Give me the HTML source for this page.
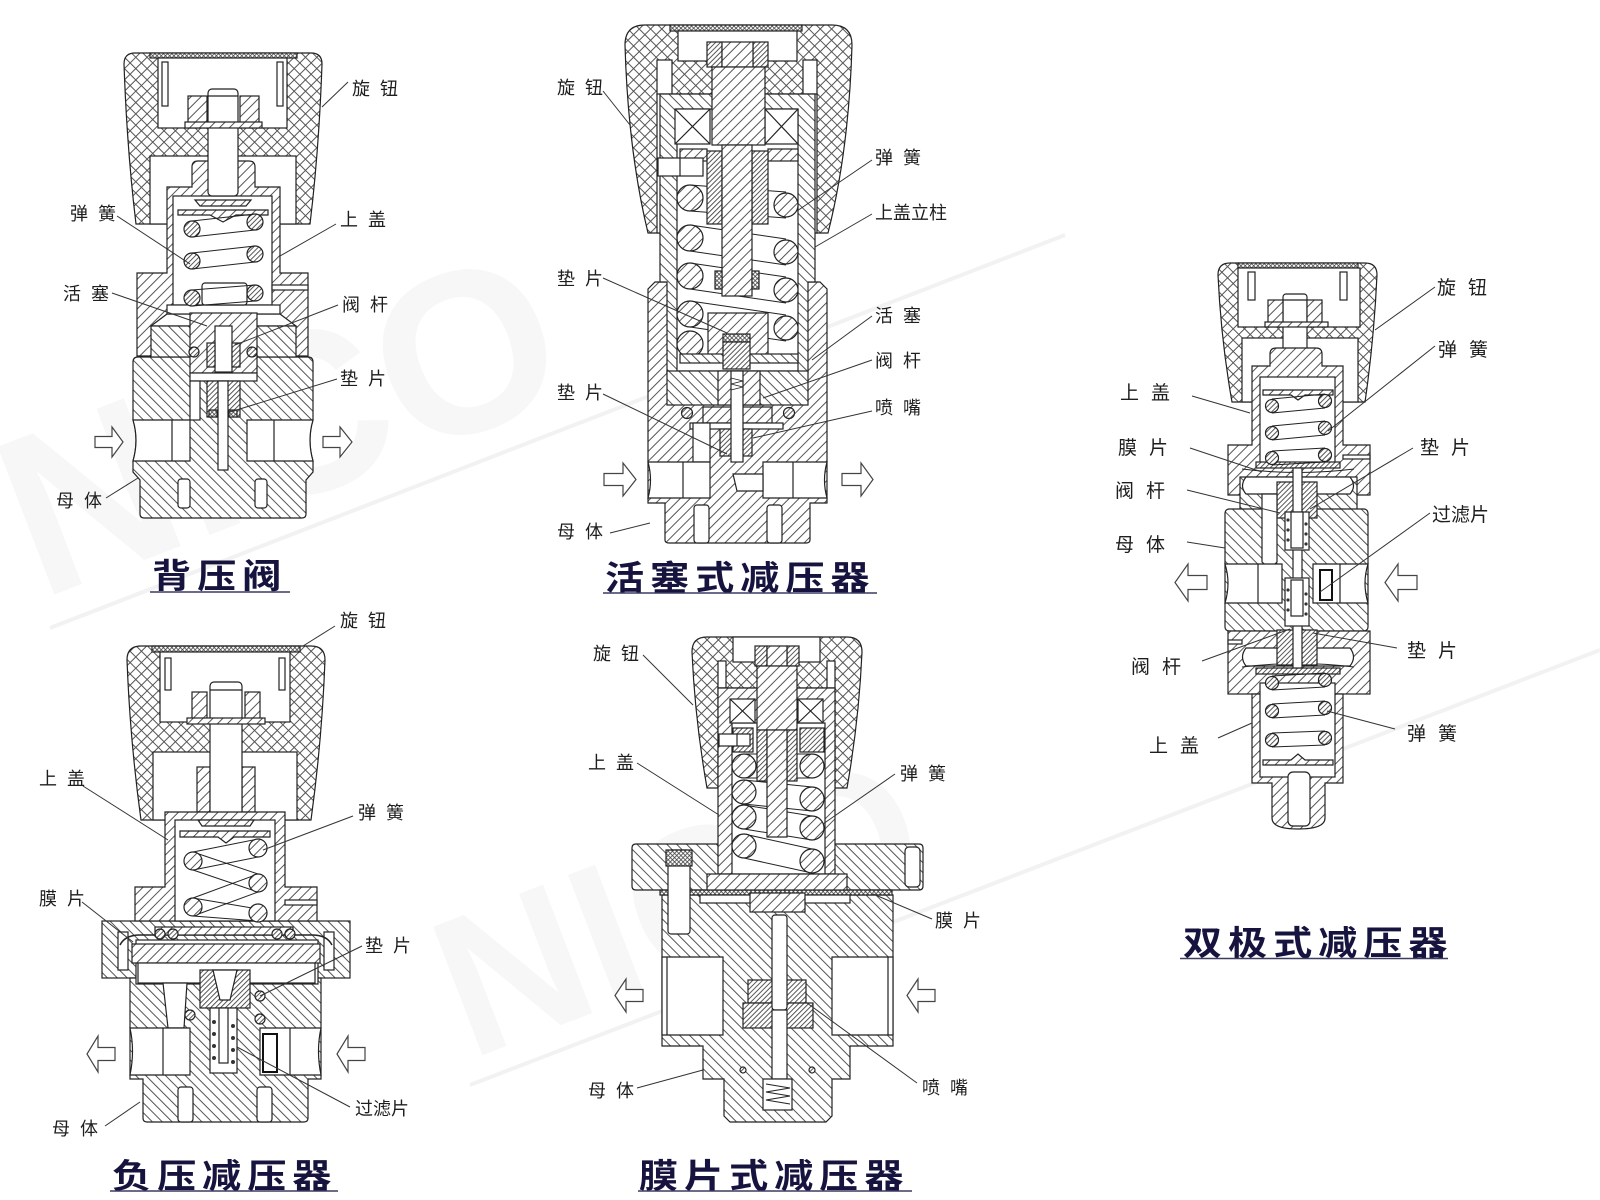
<!DOCTYPE html>
<html><head><meta charset="utf-8"><style>
html,body{margin:0;padding:0;background:#fff;}
svg{display:block;}
.lb{font-family:"Liberation Sans","Noto Sans CJK SC",sans-serif;font-size:18px;fill:#1e1e1e;}
.lb3{font-family:"Liberation Sans","Noto Sans CJK SC",sans-serif;font-size:19px;fill:#1e1e1e;}
.tt{font-family:"Liberation Sans","Noto Sans CJK SC",sans-serif;font-size:34px;font-weight:700;fill:#16143f;letter-spacing:5.2px;}
</style></head><body>
<svg width="1600" height="1200" viewBox="0 0 1600 1200" xmlns="http://www.w3.org/2000/svg">
<defs>
<pattern id="hA" patternUnits="userSpaceOnUse" width="7" height="7" patternTransform="rotate(45)"><rect width="7" height="7" fill="#fff"/><rect x="0" y="0" width="1" height="7" fill="#555"/></pattern>
<pattern id="hB" patternUnits="userSpaceOnUse" width="7" height="7" patternTransform="rotate(-45)"><rect width="7" height="7" fill="#fff"/><rect x="0" y="0" width="1" height="7" fill="#555"/></pattern>
<pattern id="hC" patternUnits="userSpaceOnUse" width="3.5" height="3.5" patternTransform="rotate(45)"><rect width="3.5" height="3.5" fill="#fff"/><rect x="0" y="0" width="0.9" height="3.5" fill="#444"/></pattern>
<pattern id="xh" patternUnits="userSpaceOnUse" width="8" height="8" patternTransform="rotate(45)"><rect width="8" height="8" fill="#fff"/><rect x="0" y="0" width="1" height="8" fill="#555"/><rect x="0" y="0" width="8" height="1" fill="#555"/></pattern>
<pattern id="fine" patternUnits="userSpaceOnUse" width="3" height="3" patternTransform="rotate(45)"><rect width="3" height="3" fill="#fff"/><rect x="0" y="0" width="0.8" height="3" fill="#444"/><rect x="0" y="0" width="3" height="0.8" fill="#444"/></pattern>
</defs>

<!-- faint watermark -->
<g stroke="#f2f2f2" stroke-width="4" fill="none">
<line x1="50" y1="628" x2="1065" y2="235"/>
<line x1="470" y1="1085" x2="1600" y2="650"/>
</g>
<g fill="#f7f7f7" font-family="Liberation Sans, sans-serif" font-weight="700">
<text x="0" y="0" font-size="230" transform="translate(40,600) rotate(-21)">NICO</text>
<text x="0" y="0" font-size="200" transform="translate(470,1060) rotate(-21)">NICO</text>
</g>

<g stroke="#222" stroke-width="1.2">
<!-- DIAGRAM 1 -->
<path d="M124,64 Q124,53 135,53 L311,53 Q322,53 322,64 Q319,150 310,224 L136,224 Q127,150 124,64 Z" fill="url(#xh)"/>
<rect x="150" y="53" width="147" height="5" fill="url(#fine)"/>
<rect x="158" y="58" width="129" height="70" fill="#fff"/>
<rect x="162" y="62" width="6" height="44" fill="#fff"/>
<rect x="277" y="62" width="6" height="44" fill="#fff"/>
<rect x="150" y="156" width="146" height="68" fill="#fff"/>
<path d="M192,167 Q192,161 198,161 L249,161 Q255,161 255,167 L255,187 L280,187 L280,273 L308,273 L308,356 L137,356 L137,273 L167,273 L167,187 L192,187 Z" fill="url(#hA)"/>
<rect x="173" y="196" width="99" height="109" fill="#fff"/>
<rect x="272" y="285" width="36" height="5" fill="#fff"/>
<path d="M133,362 Q133,357 138,357 L308,357 Q313,357 313,362 L313,420 Q307,440 313,461 L313,472 L306,480 L306,514 Q306,518 302,518 L144,518 Q140,518 140,514 L140,480 L133,472 L133,461 Q139,440 133,420 Z" fill="url(#hB)"/>
<polygon points="167,314 280,314 296,326 151,326" fill="#fff"/>
<rect x="151" y="326" width="145" height="31" fill="url(#hB)"/>
<rect x="167" y="305" width="113" height="9" fill="#fff"/>
<rect x="202" y="283" width="45" height="22" rx="3" fill="#fff"/>
<rect x="190" y="313" width="67" height="60" fill="url(#hA)"/>
<rect x="215" y="326" width="17" height="46" fill="#fff"/>
<rect x="207" y="343" width="8" height="24" fill="url(#hC)"/>
<rect x="232" y="343" width="8" height="24" fill="url(#hC)"/>
<circle cx="194" cy="352" r="5" fill="url(#hC)"/>
<circle cx="252" cy="352" r="5" fill="url(#hC)"/>
<rect x="190" y="373" width="67" height="8" fill="#fff"/>
<rect x="207" y="381" width="33" height="36" fill="url(#hC)"/>
<rect x="190" y="381" width="10" height="39" fill="#fff"/>
<path d="M133,420 L190,420 L190,461 L133,461 Q139,440 133,420 Z" fill="#fff"/>
<line x1="172" y1="420" x2="172" y2="461"/>
<path d="M247,420 L313,420 Q307,440 313,461 L247,461 Z" fill="#fff"/>
<line x1="274" y1="420" x2="274" y2="461"/>
<rect x="218" y="381" width="10" height="89" fill="#fff"/>
<rect x="209" y="410" width="8" height="7" fill="url(#fine)"/>
<rect x="229" y="410" width="8" height="7" fill="url(#fine)"/>
<rect x="178" y="479" width="12" height="29" rx="3" fill="#fff"/>
<rect x="255" y="479" width="12" height="29" rx="3" fill="#fff"/>
<rect x="208" y="89" width="30" height="107" rx="4" fill="#fff"/>
<line x1="208" y1="96" x2="238" y2="96"/>
<rect x="188" y="96" width="19" height="27" fill="url(#hA)"/>
<rect x="240" y="96" width="19" height="27" fill="url(#hA)"/>
<rect x="185" y="122" width="77" height="6" fill="url(#hA)"/>
<polygon points="195,200 251,200 246,206 200,206" fill="url(#hA)"/>
<polygon points="178,210 268,210 268,215 236,215 223,222 210,215 178,215" fill="url(#hA)"/>
<g stroke-width="1">
<line x1="192" y1="221" x2="255" y2="214"/><line x1="192" y1="237" x2="255" y2="230"/>
<line x1="192" y1="253" x2="255" y2="246"/><line x1="192" y1="269" x2="255" y2="262"/>
<line x1="192" y1="290" x2="255" y2="285"/><line x1="192" y1="306" x2="255" y2="301"/>
</g>
<circle cx="192" cy="229" r="8" fill="url(#hC)"/><circle cx="192" cy="261" r="8" fill="url(#hC)"/><circle cx="192" cy="298" r="8" fill="url(#hC)"/>
<circle cx="255" cy="222" r="8" fill="url(#hC)"/><circle cx="255" cy="254" r="8" fill="url(#hC)"/><circle cx="255" cy="293" r="8" fill="url(#hC)"/>

<!-- DIAGRAM 2 -->
<path d="M625,45 Q625,25 645,25 L832,25 Q852,25 852,45 Q849,150 828,233 L648,233 Q628,150 625,45 Z" fill="url(#xh)"/>
<rect x="670" y="25" width="132" height="6" fill="url(#fine)"/>
<rect x="678" y="31" width="119" height="30" fill="#fff"/>
<rect x="657" y="60" width="15" height="35" fill="#fff"/>
<rect x="803" y="60" width="14" height="35" fill="#fff"/>
<rect x="657" y="94" width="160" height="139" fill="#fff"/>
<path d="M655,282 L820,282 L827,289 L827,503 L810,503 L810,540 Q810,543 806,543 L669,543 Q665,543 665,540 L665,503 L648,503 L648,289 Z" fill="url(#hA)"/>
<path d="M660,94 L815,94 L815,282 L808,282 L808,373 L667,373 L667,282 L660,282 Z" fill="url(#hB)"/>
<rect x="677" y="109" width="121" height="262" fill="#fff"/>
<rect x="675" y="109" width="35" height="35" fill="#fff"/>
<line x1="675" y1="109" x2="710" y2="144"/><line x1="710" y1="109" x2="675" y2="144"/>
<rect x="765" y="109" width="33" height="35" fill="#fff"/>
<line x1="765" y1="109" x2="798" y2="144"/><line x1="798" y1="109" x2="765" y2="144"/>
<rect x="707" y="42" width="15" height="25" fill="url(#hC)"/>
<rect x="753" y="42" width="15" height="25" fill="url(#hC)"/>
<rect x="722" y="42" width="31" height="25" fill="url(#hA)"/>
<rect x="712" y="67" width="53" height="78" fill="url(#hA)"/>
<g stroke-width="1">
<line x1="690" y1="185" x2="786" y2="192"/><line x1="690" y1="211" x2="786" y2="218"/>
<line x1="690" y1="225" x2="786" y2="239"/><line x1="690" y1="251" x2="786" y2="265"/>
<line x1="690" y1="263" x2="786" y2="277"/><line x1="690" y1="289" x2="786" y2="303"/>
<line x1="690" y1="301" x2="786" y2="315"/><line x1="690" y1="327" x2="786" y2="341"/>
</g>
<circle cx="690" cy="198" r="13" fill="url(#hA)"/><circle cx="690" cy="238" r="13" fill="url(#hA)"/><circle cx="690" cy="276" r="13" fill="url(#hA)"/><circle cx="690" cy="314" r="13" fill="url(#hA)"/><circle cx="690" cy="344" r="13" fill="url(#hA)"/>
<circle cx="786" cy="205" r="12" fill="url(#hA)"/><circle cx="786" cy="252" r="12" fill="url(#hA)"/><circle cx="786" cy="290" r="12" fill="url(#hA)"/><circle cx="786" cy="328" r="12" fill="url(#hA)"/>
<rect x="680" y="149" width="27" height="12" fill="url(#hA)"/>
<rect x="768" y="149" width="30" height="12" fill="url(#hA)"/>
<rect x="707" y="151" width="15" height="73" fill="url(#hC)"/>
<rect x="752" y="151" width="16" height="73" fill="url(#hC)"/>
<rect x="722" y="145" width="30" height="151" fill="url(#hA)"/>
<rect x="715" y="271" width="7" height="18" fill="url(#fine)"/>
<rect x="752" y="271" width="7" height="18" fill="url(#fine)"/>
<rect x="658" y="158" width="45" height="18" fill="#fff"/>
<line x1="680" y1="158" x2="680" y2="176"/>
<rect x="708" y="313" width="60" height="42" fill="url(#hA)"/>
<rect x="680" y="354" width="118" height="9" fill="url(#hB)"/>
<rect x="723" y="334" width="27" height="8" fill="url(#fine)"/>
<rect x="723" y="342" width="27" height="27" fill="url(#hC)"/>
<rect x="667" y="371" width="141" height="34" fill="url(#hB)"/>
<rect x="718" y="371" width="42" height="34" fill="url(#hA)"/>
<rect x="703" y="407" width="69" height="16" fill="url(#hA)"/>
<circle cx="687" cy="413" r="5.5" fill="url(#hC)"/>
<circle cx="789" cy="413" r="5.5" fill="url(#hC)"/>
<rect x="690" y="423" width="93" height="6" fill="#fff"/>
<rect x="720" y="429" width="32" height="27" fill="url(#hC)"/>
<rect x="731" y="371" width="12" height="91" fill="#fff"/>
<polyline points="731,378 743,381 731,384 743,387 731,390" fill="none" stroke-width="0.9"/>
<rect x="693" y="423" width="17" height="39" fill="#fff"/>
<path d="M648,462 L710,462 L710,498 L648,498 Q653,480 648,462 Z" fill="#fff"/>
<line x1="683" y1="462" x2="683" y2="498"/>
<path d="M763,462 L827,462 Q822,480 827,498 L763,498 Z" fill="#fff"/>
<line x1="793" y1="462" x2="793" y2="498"/>
<polygon points="733,474 763,474 763,491 737,491" fill="#fff"/>
<rect x="694" y="505" width="15" height="38" rx="3" fill="#fff"/>
<rect x="767" y="505" width="15" height="38" rx="3" fill="#fff"/>

<!-- DIAGRAM 3 -->
<path d="M1218,275 Q1218,263 1230,263 L1365,263 Q1377,263 1377,275 Q1374,340 1365,402 L1232,402 Q1221,340 1218,275 Z" fill="url(#xh)"/>
<rect x="1238" y="263" width="120" height="5" fill="url(#fine)"/>
<rect x="1238" y="268" width="122" height="59" fill="#fff"/>
<rect x="1248" y="272" width="7" height="28" fill="#fff"/>
<rect x="1340" y="272" width="7" height="28" fill="#fff"/>
<rect x="1242" y="338" width="116" height="64" fill="#fff"/>
<rect x="1283" y="294" width="24" height="58" rx="3" fill="#fff"/>
<line x1="1283" y1="300" x2="1307" y2="300"/>
<rect x="1268" y="300" width="15" height="23" fill="url(#hA)"/>
<rect x="1307" y="300" width="15" height="23" fill="url(#hA)"/>
<rect x="1265" y="322" width="63" height="5" fill="url(#hA)"/>
<path d="M1270,354 Q1270,348 1276,348 L1316,348 Q1322,348 1322,354 L1322,366 L1343,366 L1343,445 L1370,445 L1370,495 L1228,495 L1228,445 L1252,445 L1252,366 L1270,366 Z" fill="url(#hA)"/>
<rect x="1260" y="377" width="75" height="86" fill="#fff"/>
<rect x="1343" y="455" width="27" height="4" fill="#fff"/>
<rect x="1240" y="477" width="117" height="190" fill="url(#hB)"/>
<rect x="1225" y="509" width="143" height="122" rx="4" fill="url(#hB)"/>
<rect x="1228" y="631" width="142" height="63" fill="url(#hA)"/>
<rect x="1228" y="640" width="14" height="4" fill="#fff"/>
<path d="M1252,694 L1343,694 L1343,783 L1325,783 L1325,818 Q1325,829 1298,829 Q1272,829 1272,818 L1272,783 L1252,783 Z" fill="url(#hA)"/>
<rect x="1260" y="683" width="75" height="94" fill="#fff"/>
<path d="M1246,477 L1350,477 Q1357,486 1350,494 L1246,494 Q1239,486 1246,477 Z" fill="#fff"/>
<path d="M1246,648 L1350,648 Q1357,657 1350,666 L1246,666 Q1239,657 1246,648 Z" fill="#fff"/>
<rect x="1256" y="462" width="84" height="6" fill="url(#hC)"/>
<rect x="1256" y="668" width="84" height="6" fill="url(#hC)"/>
<path d="M1242,469 Q1298,476 1354,469" fill="none" stroke-width="1"/>
<path d="M1242,667 Q1298,660 1354,667" fill="none" stroke-width="1"/>
<rect x="1277" y="482" width="40" height="36" fill="url(#hC)"/>
<rect x="1277" y="630" width="40" height="35" fill="url(#hC)"/>
<rect x="1293" y="468" width="9" height="200" fill="#fff"/>
<rect x="1285" y="512" width="24" height="38" fill="#fff"/>
<rect x="1285" y="578" width="24" height="48" fill="#fff"/>
<g fill="#333" stroke="none">
<circle cx="1288" cy="520" r="1.6"/><circle cx="1306" cy="524" r="1.6"/><circle cx="1288" cy="530" r="1.6"/><circle cx="1306" cy="534" r="1.6"/><circle cx="1288" cy="540" r="1.6"/><circle cx="1306" cy="544" r="1.6"/>
<circle cx="1288" cy="590" r="1.6"/><circle cx="1306" cy="594" r="1.6"/><circle cx="1288" cy="600" r="1.6"/><circle cx="1306" cy="604" r="1.6"/><circle cx="1288" cy="610" r="1.6"/><circle cx="1306" cy="614" r="1.6"/>
</g>
<rect x="1291" y="512" width="12" height="36" fill="#fff"/>
<rect x="1291" y="580" width="12" height="36" fill="#fff"/>
<path d="M1262,494 L1277,494 L1277,562 Q1270,570 1262,562 Z" fill="#fff"/>
<path d="M1225,564 L1282,564 L1282,603 L1225,603 Q1231,583 1225,564 Z" fill="#fff"/>
<line x1="1258" y1="564" x2="1258" y2="603"/>
<path d="M1313,564 L1368,564 Q1362,583 1368,603 L1313,603 Z" fill="#fff"/>
<line x1="1340" y1="564" x2="1340" y2="603"/>
<rect x="1320" y="570" width="12" height="30" fill="#fff" stroke="#111" stroke-width="2"/>
<polygon points="1263,390 1333,390 1333,395 1305,395 1298,400 1291,395 1263,395" fill="url(#hA)"/>
<polygon points="1263,760 1291,760 1298,754 1305,760 1333,760 1333,765 1263,765" fill="url(#hA)"/>
<g stroke-width="1">
<line x1="1272" y1="399" x2="1325" y2="394"/><line x1="1272" y1="413" x2="1325" y2="408"/>
<line x1="1272" y1="426" x2="1325" y2="421"/><line x1="1272" y1="440" x2="1325" y2="435"/>
<line x1="1272" y1="451" x2="1325" y2="448"/><line x1="1272" y1="465" x2="1325" y2="462"/>
<line x1="1272" y1="676" x2="1325" y2="673"/><line x1="1272" y1="690" x2="1325" y2="687"/>
<line x1="1272" y1="704" x2="1325" y2="701"/><line x1="1272" y1="718" x2="1325" y2="715"/>
<line x1="1272" y1="733" x2="1325" y2="731"/><line x1="1272" y1="747" x2="1325" y2="745"/>
</g>
<circle cx="1272" cy="406" r="6.5" fill="url(#hC)"/><circle cx="1272" cy="433" r="6.5" fill="url(#hC)"/><circle cx="1272" cy="458" r="6.5" fill="url(#hC)"/>
<circle cx="1325" cy="401" r="6.5" fill="url(#hC)"/><circle cx="1325" cy="428" r="6.5" fill="url(#hC)"/><circle cx="1325" cy="455" r="6.5" fill="url(#hC)"/>
<circle cx="1272" cy="683" r="6.5" fill="url(#hC)"/><circle cx="1272" cy="711" r="6.5" fill="url(#hC)"/><circle cx="1272" cy="740" r="6.5" fill="url(#hC)"/>
<circle cx="1325" cy="680" r="6.5" fill="url(#hC)"/><circle cx="1325" cy="708" r="6.5" fill="url(#hC)"/><circle cx="1325" cy="738" r="6.5" fill="url(#hC)"/>
<rect x="1288" y="772" width="22" height="54" rx="5" fill="#fff"/>

<!-- DIAGRAM 4 -->
<path d="M127,660 Q127,646 141,646 L311,646 Q325,646 325,660 Q322,740 311,820 L141,820 Q130,740 127,660 Z" fill="url(#xh)"/>
<rect x="152" y="646" width="148" height="6" fill="url(#fine)"/>
<rect x="160" y="652" width="130" height="70" fill="#fff"/>
<rect x="165" y="658" width="6" height="32" fill="#fff"/>
<rect x="279" y="658" width="6" height="32" fill="#fff"/>
<rect x="153" y="752" width="144" height="68" fill="#fff"/>
<rect x="197" y="767" width="13" height="45" fill="url(#hA)"/>
<rect x="242" y="767" width="13" height="45" fill="url(#hA)"/>
<rect x="210" y="682" width="32" height="138" rx="4" fill="#fff"/>
<line x1="210" y1="690" x2="242" y2="690"/>
<rect x="192" y="692" width="15" height="27" fill="url(#hA)"/>
<rect x="245" y="692" width="15" height="27" fill="url(#hA)"/>
<rect x="187" y="718" width="78" height="6" fill="url(#hA)"/>
<rect x="102" y="921" width="248" height="57" fill="url(#hB)"/>
<path d="M165,812 L285,812 L285,887 L317,887 L317,921 L135,921 L135,887 L165,887 Z" fill="url(#hA)"/>
<rect x="175" y="820" width="100" height="101" fill="#fff"/>
<rect x="285" y="900" width="32" height="5" fill="#fff"/>
<path d="M130,978 L321,978 L321,1079 L308,1079 L308,1118 Q308,1122 304,1122 L147,1122 Q143,1122 143,1118 L143,1079 L130,1079 Z" fill="url(#hB)"/>
<rect x="118" y="932" width="10" height="38" fill="#fff"/>
<rect x="324" y="932" width="10" height="38" fill="#fff"/>
<rect x="136" y="940" width="182" height="44" fill="#fff"/>
<rect x="132" y="944" width="188" height="19" fill="url(#hA)"/>
<rect x="138" y="963" width="177" height="20" fill="#fff"/>
<path d="M120,945 Q125,935 140,935 L312,935 Q327,935 332,945" fill="none" stroke-width="1.5"/>
<rect x="155" y="927" width="138" height="8" fill="url(#hA)"/>
<circle cx="160" cy="934" r="5" fill="url(#hC)"/><circle cx="173" cy="934" r="5" fill="url(#hC)"/>
<circle cx="277" cy="934" r="5" fill="url(#hC)"/><circle cx="290" cy="934" r="5" fill="url(#hC)"/>
<polygon points="163,983 187,983 184,1028 168,1028" fill="#fff"/>
<rect x="200" y="970" width="50" height="38" fill="url(#hC)"/>
<polygon points="213,970 237,970 230,1000 220,1000" fill="#fff"/>
<rect x="210" y="1008" width="27" height="65" fill="#fff"/>
<g fill="#333" stroke="none">
<circle cx="214" cy="1022" r="2"/><circle cx="233" cy="1026" r="2"/><circle cx="214" cy="1034" r="2"/><circle cx="233" cy="1038" r="2"/><circle cx="214" cy="1046" r="2"/><circle cx="233" cy="1050" r="2"/><circle cx="214" cy="1058" r="2"/><circle cx="233" cy="1062" r="2"/>
</g>
<rect x="219" y="1008" width="9" height="55" fill="#fff"/>
<circle cx="190" cy="1015" r="5" fill="url(#hC)"/>
<circle cx="260" cy="996" r="5" fill="url(#hC)"/>
<circle cx="260" cy="1019" r="5" fill="url(#hC)"/>
<path d="M130,1028 L190,1028 L190,1075 L130,1075 Q135,1051 130,1028 Z" fill="#fff"/>
<line x1="163" y1="1028" x2="163" y2="1075"/>
<path d="M260,1028 L321,1028 Q316,1051 321,1075 L260,1075 Z" fill="#fff"/>
<line x1="290" y1="1028" x2="290" y2="1075"/>
<rect x="263" y="1034" width="14" height="38" fill="#fff" stroke="#111" stroke-width="2"/>
<rect x="178" y="1087" width="15" height="35" rx="3" fill="#fff"/>
<rect x="257" y="1087" width="15" height="35" rx="3" fill="#fff"/>
<polygon points="198,820 254,820 250,826 202,826" fill="url(#hA)"/>
<polygon points="180,831 270,831 270,837 234,837 226,843 218,837 180,837" fill="url(#hA)"/>
<g stroke-width="1">
<line x1="193" y1="852" x2="258" y2="839"/><line x1="193" y1="870" x2="258" y2="857"/>
<line x1="193" y1="852" x2="258" y2="874"/><line x1="193" y1="870" x2="258" y2="892"/>
<line x1="193" y1="898" x2="258" y2="874"/><line x1="193" y1="916" x2="258" y2="892"/>
<line x1="193" y1="898" x2="258" y2="909"/><line x1="193" y1="916" x2="258" y2="921"/>
</g>
<circle cx="193" cy="861" r="9" fill="url(#hA)"/><circle cx="193" cy="907" r="9" fill="url(#hA)"/>
<circle cx="258" cy="848" r="9" fill="url(#hA)"/><circle cx="258" cy="883" r="9" fill="url(#hA)"/><circle cx="258" cy="913" r="9" fill="url(#hA)"/>

<!-- DIAGRAM 5 -->
<path d="M632,848 Q632,844 636,844 L919,844 Q923,844 923,848 L923,886 Q923,890 919,890 L636,890 Q632,890 632,886 Z" fill="url(#hB)"/>
<rect x="905" y="847" width="15" height="40" rx="4" fill="#fff"/>
<path d="M662,895 L893,895 L893,1046 L850,1046 L850,1079 L832,1079 L832,1116 L826,1122 L730,1122 L724,1116 L724,1079 L703,1079 L703,1046 L662,1046 Z" fill="url(#hB)"/>
<rect x="660" y="890" width="232" height="5" fill="url(#fine)"/>
<rect x="668" y="850" width="22" height="84" rx="3" fill="#fff"/>
<rect x="666" y="850" width="26" height="16" fill="url(#fine)"/>
<path d="M692,652 Q692,637 707,637 L847,637 Q862,637 862,652 Q859,720 847,788 L707,788 Q695,720 692,652 Z" fill="url(#xh)"/>
<rect x="733" y="637" width="87" height="25" fill="#fff"/>
<rect x="718" y="661" width="8" height="27" fill="#fff"/>
<rect x="827" y="661" width="8" height="27" fill="#fff"/>
<rect x="718" y="688" width="117" height="100" fill="#fff"/>
<path d="M718,688 L835,688 L835,874 L718,874 Z" fill="url(#hA)"/>
<rect x="732" y="723" width="93" height="151" fill="#fff"/>
<rect x="730" y="699" width="25" height="24" fill="#fff"/>
<line x1="730" y1="699" x2="755" y2="723"/><line x1="755" y1="699" x2="730" y2="723"/>
<rect x="798" y="699" width="25" height="24" fill="#fff"/>
<line x1="798" y1="699" x2="823" y2="723"/><line x1="823" y1="699" x2="798" y2="723"/>
<rect x="755" y="646" width="12" height="20" fill="url(#hC)"/>
<rect x="787" y="646" width="12" height="20" fill="url(#hC)"/>
<rect x="767" y="646" width="20" height="20" fill="url(#hA)"/>
<rect x="757" y="666" width="40" height="64" fill="url(#hA)"/>
<g stroke-width="1">
<line x1="744" y1="754" x2="812" y2="754"/><line x1="744" y1="778" x2="812" y2="778"/>
<line x1="744" y1="780" x2="812" y2="787"/><line x1="744" y1="804" x2="812" y2="811"/>
<line x1="744" y1="805" x2="812" y2="816"/><line x1="744" y1="829" x2="812" y2="840"/>
<line x1="744" y1="834" x2="812" y2="849"/><line x1="744" y1="858" x2="812" y2="873"/>
</g>
<circle cx="744" cy="766" r="12" fill="url(#hA)"/><circle cx="744" cy="792" r="12" fill="url(#hA)"/><circle cx="744" cy="817" r="12" fill="url(#hA)"/><circle cx="744" cy="846" r="12" fill="url(#hA)"/>
<circle cx="812" cy="766" r="12" fill="url(#hA)"/><circle cx="812" cy="799" r="12" fill="url(#hA)"/><circle cx="812" cy="828" r="12" fill="url(#hA)"/><circle cx="812" cy="861" r="12" fill="url(#hA)"/>
<rect x="757" y="730" width="10" height="51" fill="url(#hC)"/>
<rect x="787" y="730" width="10" height="51" fill="url(#hC)"/>
<rect x="767" y="730" width="20" height="107" fill="url(#hA)"/>
<rect x="733" y="728" width="20" height="24" fill="url(#hC)"/>
<rect x="800" y="728" width="24" height="24" fill="url(#hC)"/>
<rect x="719" y="734" width="31" height="12" fill="#fff"/>
<line x1="737" y1="734" x2="737" y2="746"/>
<rect x="707" y="874" width="140" height="16" fill="url(#hA)"/>
<rect x="700" y="895" width="150" height="8" fill="#fff"/>
<rect x="750" y="893" width="55" height="19" fill="url(#hA)"/>
<path d="M662,957 L723,957 L723,1035 L662,1035 Z" fill="#fff"/>
<line x1="667" y1="957" x2="667" y2="1035"/>
<path d="M832,957 L893,957 L893,1035 L832,1035 Z" fill="#fff"/>
<line x1="888" y1="957" x2="888" y2="1035"/>
<rect x="748" y="980" width="58" height="23" fill="url(#hC)"/>
<rect x="743" y="1003" width="70" height="25" fill="url(#hC)"/>
<rect x="772" y="915" width="15" height="95" rx="3" fill="#fff"/>
<rect x="772" y="1010" width="15" height="69" fill="#fff"/>
<rect x="763" y="1079" width="29" height="31" fill="#fff"/>
<polyline points="766,1084 790,1088 766,1092 790,1096 766,1100 790,1104" fill="none" stroke-width="1"/>
<circle cx="743" cy="1070" r="3" fill="url(#hC)"/>
<circle cx="812" cy="1070" r="3" fill="url(#hC)"/>
</g>

<!-- arrows -->
<g stroke="#444" stroke-width="1.2" fill="#fff">
<polygon points="95,436.5 112,436.5 112,427 123,442 112,457 112,447.5 95,447.5"/>
<polygon points="323,436.5 340,436.5 340,427 352,442 340,457 340,447.5 323,447.5"/>
<polygon points="604,473.5 623,473.5 623,463 636,479.5 623,496 623,485.5 604,485.5"/>
<polygon points="842,473.5 861,473.5 861,463 873,479.5 861,496 861,485.5 842,485.5"/>
<polygon points="1207,575.5 1188,575.5 1188,564 1175,582.5 1188,601 1188,589.5 1207,589.5"/>
<polygon points="1417,575.5 1398,575.5 1398,564 1385,582.5 1398,601 1398,589.5 1417,589.5"/>
<polygon points="115,1047.5 98,1047.5 98,1036 87,1054 98,1072 98,1060.5 115,1060.5"/>
<polygon points="365,1047.5 348,1047.5 348,1036 337,1054 348,1072 348,1060.5 365,1060.5"/>
<polygon points="643,989.5 626,989.5 626,979 615,995.5 626,1012 626,1001.5 643,1001.5"/>
<polygon points="935,989.5 918,989.5 918,979 907,995.5 918,1012 918,1001.5 935,1001.5"/>
</g>

<!-- leader lines -->
<g stroke="#333" stroke-width="1" fill="none">
<line x1="322" y1="107" x2="348" y2="82"/>
<line x1="117" y1="216" x2="190" y2="264"/>
<line x1="336" y1="224" x2="280" y2="256"/>
<line x1="112" y1="293" x2="207" y2="326"/>
<line x1="338" y1="305" x2="235" y2="345"/>
<line x1="337" y1="379" x2="230" y2="412"/>
<line x1="106" y1="498" x2="138" y2="478"/>
<line x1="603" y1="91" x2="630" y2="125"/>
<line x1="872" y1="160" x2="797" y2="211"/>
<line x1="872" y1="214" x2="815" y2="247"/>
<line x1="603" y1="278" x2="727" y2="333"/>
<line x1="872" y1="316" x2="812" y2="360"/>
<line x1="872" y1="360" x2="763" y2="398"/>
<line x1="603" y1="394" x2="727" y2="454"/>
<line x1="872" y1="411" x2="753" y2="438"/>
<line x1="610" y1="533" x2="650" y2="523"/>
<line x1="1435" y1="287" x2="1375" y2="330"/>
<line x1="1435" y1="346" x2="1328" y2="431"/>
<line x1="1192" y1="396" x2="1250" y2="413"/>
<line x1="1190" y1="448" x2="1262" y2="472"/>
<line x1="1413" y1="448" x2="1310" y2="509"/>
<line x1="1187" y1="490" x2="1280" y2="513"/>
<line x1="1430" y1="513" x2="1320" y2="592"/>
<line x1="1187" y1="542" x2="1225" y2="548"/>
<line x1="1202" y1="661" x2="1290" y2="629"/>
<line x1="1397" y1="648" x2="1313" y2="633"/>
<line x1="1218" y1="738" x2="1252" y2="723"/>
<line x1="1395" y1="729" x2="1327" y2="711"/>
<line x1="335" y1="626" x2="303" y2="646"/>
<line x1="83" y1="786" x2="168" y2="840"/>
<line x1="353" y1="816" x2="263" y2="850"/>
<line x1="82" y1="902" x2="133" y2="942"/>
<line x1="362" y1="946" x2="260" y2="996"/>
<line x1="350" y1="1107" x2="237" y2="1047"/>
<line x1="105" y1="1126" x2="140" y2="1102"/>
<line x1="643" y1="655" x2="693" y2="705"/>
<line x1="637" y1="763" x2="719" y2="815"/>
<line x1="895" y1="774" x2="823" y2="824"/>
<line x1="932" y1="919" x2="873" y2="894"/>
<line x1="637" y1="1088" x2="703" y2="1070"/>
<line x1="917" y1="1083" x2="807" y2="1003"/>
</g>

<!-- labels -->
<g class="lb">
<text x="352" y="95" textLength="46" lengthAdjust="spacing">旋 钮</text>
<text x="70" y="220" textLength="46" lengthAdjust="spacing">弹 簧</text>
<text x="340" y="226" textLength="46" lengthAdjust="spacing">上 盖</text>
<text x="63" y="300" textLength="46" lengthAdjust="spacing">活 塞</text>
<text x="342" y="311" textLength="46" lengthAdjust="spacing">阀 杆</text>
<text x="340" y="385" textLength="46" lengthAdjust="spacing">垫 片</text>
<text x="56" y="507" textLength="46" lengthAdjust="spacing">母 体</text>
<text x="557" y="94" textLength="46" lengthAdjust="spacing">旋 钮</text>
<text x="875" y="164" textLength="46" lengthAdjust="spacing">弹 簧</text>
<text x="875" y="219">上盖立柱</text>
<text x="557" y="285" textLength="46" lengthAdjust="spacing">垫 片</text>
<text x="875" y="322" textLength="46" lengthAdjust="spacing">活 塞</text>
<text x="875" y="367" textLength="46" lengthAdjust="spacing">阀 杆</text>
<text x="557" y="399" textLength="46" lengthAdjust="spacing">垫 片</text>
<text x="875" y="414" textLength="46" lengthAdjust="spacing">喷 嘴</text>
<text x="557" y="538" textLength="46" lengthAdjust="spacing">母 体</text>
<text x="340" y="627" textLength="46" lengthAdjust="spacing">旋 钮</text>
<text x="39" y="785" textLength="46" lengthAdjust="spacing">上 盖</text>
<text x="358" y="819" textLength="46" lengthAdjust="spacing">弹 簧</text>
<text x="39" y="905" textLength="46" lengthAdjust="spacing">膜 片</text>
<text x="365" y="952" textLength="46" lengthAdjust="spacing">垫 片</text>
<text x="355" y="1115">过滤片</text>
<text x="52" y="1135" textLength="46" lengthAdjust="spacing">母 体</text>
<text x="593" y="660" textLength="46" lengthAdjust="spacing">旋 钮</text>
<text x="588" y="769" textLength="46" lengthAdjust="spacing">上 盖</text>
<text x="900" y="780" textLength="46" lengthAdjust="spacing">弹 簧</text>
<text x="935" y="927" textLength="46" lengthAdjust="spacing">膜 片</text>
<text x="588" y="1097" textLength="46" lengthAdjust="spacing">母 体</text>
<text x="922" y="1094" textLength="46" lengthAdjust="spacing">喷 嘴</text>
</g>
<g class="lb3">
<text x="1437" y="294" textLength="50" lengthAdjust="spacing">旋 钮</text>
<text x="1438" y="356" textLength="50" lengthAdjust="spacing">弹 簧</text>
<text x="1120" y="399" textLength="50" lengthAdjust="spacing">上 盖</text>
<text x="1118" y="454" textLength="50" lengthAdjust="spacing">膜 片</text>
<text x="1420" y="454" textLength="50" lengthAdjust="spacing">垫 片</text>
<text x="1115" y="497" textLength="50" lengthAdjust="spacing">阀 杆</text>
<text x="1432" y="521">过滤片</text>
<text x="1115" y="551" textLength="50" lengthAdjust="spacing">母 体</text>
<text x="1131" y="673" textLength="50" lengthAdjust="spacing">阀 杆</text>
<text x="1407" y="657" textLength="50" lengthAdjust="spacing">垫 片</text>
<text x="1149" y="752" textLength="50" lengthAdjust="spacing">上 盖</text>
<text x="1407" y="740" textLength="50" lengthAdjust="spacing">弹 簧</text>
</g>

<!-- titles -->
<g class="tt">
<text transform="translate(152,588) scale(1.15,1)">背压阀</text>
<text transform="translate(605,590) scale(1.15,1)">活塞式减压器</text>
<text transform="translate(1183,955) scale(1.15,1)">双极式减压器</text>
<text transform="translate(112,1188) scale(1.15,1)">负压减压器</text>
<text transform="translate(639,1188) scale(1.15,1)">膜片式减压器</text>
</g>
<g stroke="#3c3c60" stroke-width="1.6">
<line x1="150" y1="592" x2="290" y2="592"/>
<line x1="603" y1="593" x2="877" y2="593"/>
<line x1="1180" y1="958.5" x2="1448" y2="958.5"/>
<line x1="110" y1="1191" x2="338" y2="1191"/>
<line x1="638" y1="1191" x2="912" y2="1191"/>
</g>
</svg>
</body></html>
